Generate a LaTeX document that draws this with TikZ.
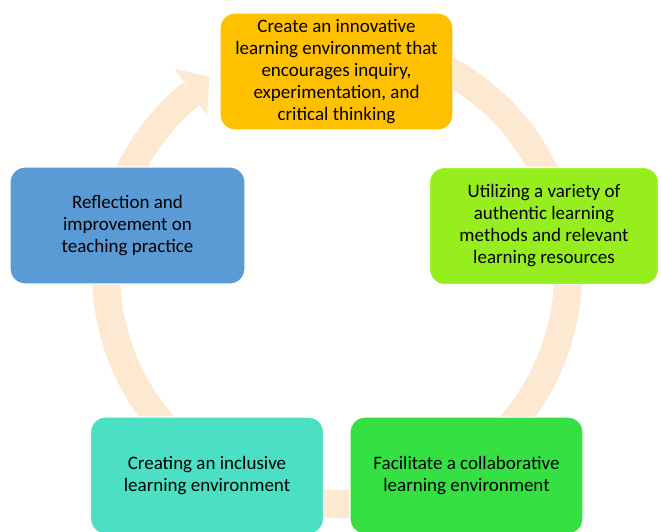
\documentclass[tikz,border=0pt]{standalone}
\usepackage{fontspec}
\setmainfont{Carlito}
\usepackage{xcolor}
\usetikzlibrary{calc}
\definecolor{ringpeach}{HTML}{FDE8D2}
\definecolor{topamber}{HTML}{FFC000}
\definecolor{limegreen}{HTML}{96EE1E}
\definecolor{brightgreen}{HTML}{35E043}
\definecolor{turq}{HTML}{4BE0C3}
\definecolor{steelblue}{HTML}{5B9BD5}
\tikzset{stage/.style={rectangle,rounded corners=15pt,draw=white,line width=1.2pt,
    minimum width=233pt,minimum height=117pt,align=center,text=black,
    font=\fontsize{19}{22}\selectfont}}

\begin{document}
\begin{tikzpicture}[x=1pt,y=1pt]
    \useasboundingbox (0,0) rectangle (661,-531);
    \coordinate (c) at (337,-273);

    % ring with arrow head
    \draw[ringpeach,line width=28pt] ($(c)+(115:231)$) arc[start angle=115,end angle=-231,radius=231];
    \fill[ringpeach] ($(c)+(128.5:261)$) -- ($(c)+(123:234)$) -- ($(c)+(129.6:204)$) -- cycle;

    \node[stage,fill=topamber] (create) at (336.5,-71.5) {Create an innovative\\learning environment that\\encourages inquiry,\\experimentation, and\\critical thinking};
    \node[stage,fill=limegreen,minimum width=229pt] (utilize) at (544,-226) {Utilizing a variety of\\authentic learning\\methods and relevant\\learning resources};
    \node[stage,fill=brightgreen] (facilitate) at (466.5,-475.5) {Facilitate a collaborative\\learning environment};
    \node[stage,fill=turq] (inclusive) at (207,-475.5) {Creating an inclusive\\learning environment};
    \node[stage,fill=steelblue,minimum width=235pt] (reflect) at (127.5,-225.5) {Reflection and\\improvement on\\teaching practice};
\end{tikzpicture}
\end{document}
